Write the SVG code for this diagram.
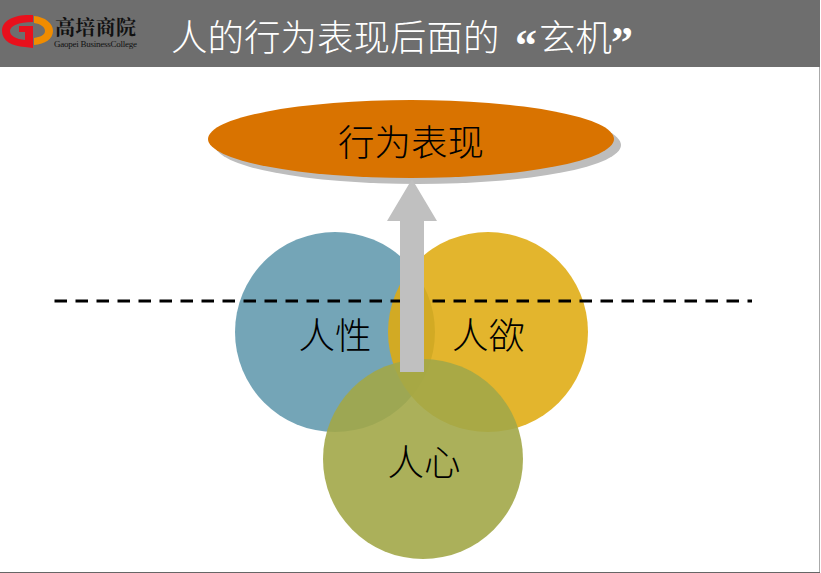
<svg xmlns="http://www.w3.org/2000/svg" width="821" height="573" viewBox="0 0 821 573">
<style>
.t{font-family:"Noto Sans CJK SC","Liberation Sans",sans-serif;font-weight:300;fill:#000;font-size:36.5px;text-anchor:middle}
.h{font-family:"Noto Sans CJK SC","Liberation Sans",sans-serif;font-weight:300;fill:#fff;font-size:36.5px}
.q{font-family:"Liberation Serif",serif;font-weight:700;font-size:44px}
</style>
<rect width="821" height="573" fill="#fff"/>
<rect x="0" y="0" width="820" height="67" fill="#6e6e6e"/>
<line x1="819.5" y1="67" x2="819.5" y2="573" stroke="#aaa"/>
<line x1="0" y1="572.5" x2="820" y2="572.5" stroke="#666"/>
<g id="logo">
<path d="M33 15 C15 14 2 20 2 31 C2 41 12 46 25 47 L33 48 L33 26 L19 26 L19 32 L25 32 L25 40 C16 39 10 36 10 31 C10 26 18 22 33 22 Z" fill="#e8101c"/>
<path d="M34 16 C45 17 53 23 53 31 C53 39 45 44 34 45 L34 38 C40 37 45 35 45 31 C45 27 41 24 34 23 Z" fill="#f08c00"/>
<text x="55" y="35" font-family="Noto Serif CJK SC,Noto Sans CJK SC,sans-serif" font-size="20" font-weight="700" fill="#111" textLength="81">高培商院</text>
<text x="54" y="47" font-family="Liberation Serif,serif" font-size="9" fill="#111" textLength="83">Gaopei BusinessCollege</text>
</g>
<text class="h" x="171" y="51">人的行为表现后面的<tspan class="q" x="515" y="60">“</tspan><tspan x="539" y="51">玄机</tspan><tspan class="q" x="611" y="57">”</tspan></text>
<g id="circles">
<g id="n1"><circle cx="335" cy="332" r="100" fill="#5c95aa" fill-opacity=".85"/><text class="t" x="335" y="349">人性</text></g>
<g id="n2"><circle cx="488" cy="332" r="100" fill="#dfab10" fill-opacity=".88"/><text class="t" x="488.5" y="349">人欲</text></g>
<g id="n3"><circle cx="423" cy="459" r="100" fill="#a2a748" fill-opacity=".9"/><text class="t" x="424" y="476">人心</text></g>
</g>
<g id="connectors">
<line x1="54.5" y1="301" x2="752" y2="301" stroke="#000" stroke-width="3.2" stroke-dasharray="12.5 8.5"/>
</g>
<g id="top">
<ellipse cx="418" cy="145" rx="203" ry="39" fill="#bdbdbd"/>
<ellipse cx="411" cy="139" rx="203" ry="39" fill="#d97300"/>
<text class="t" x="411" y="156">行为表现</text>
</g>
<g id="arrow"><polygon points="400,372 424,372 424,221 437,221 412,179 387,221 400,221" fill="#c0c0c0"/></g>
</svg>
